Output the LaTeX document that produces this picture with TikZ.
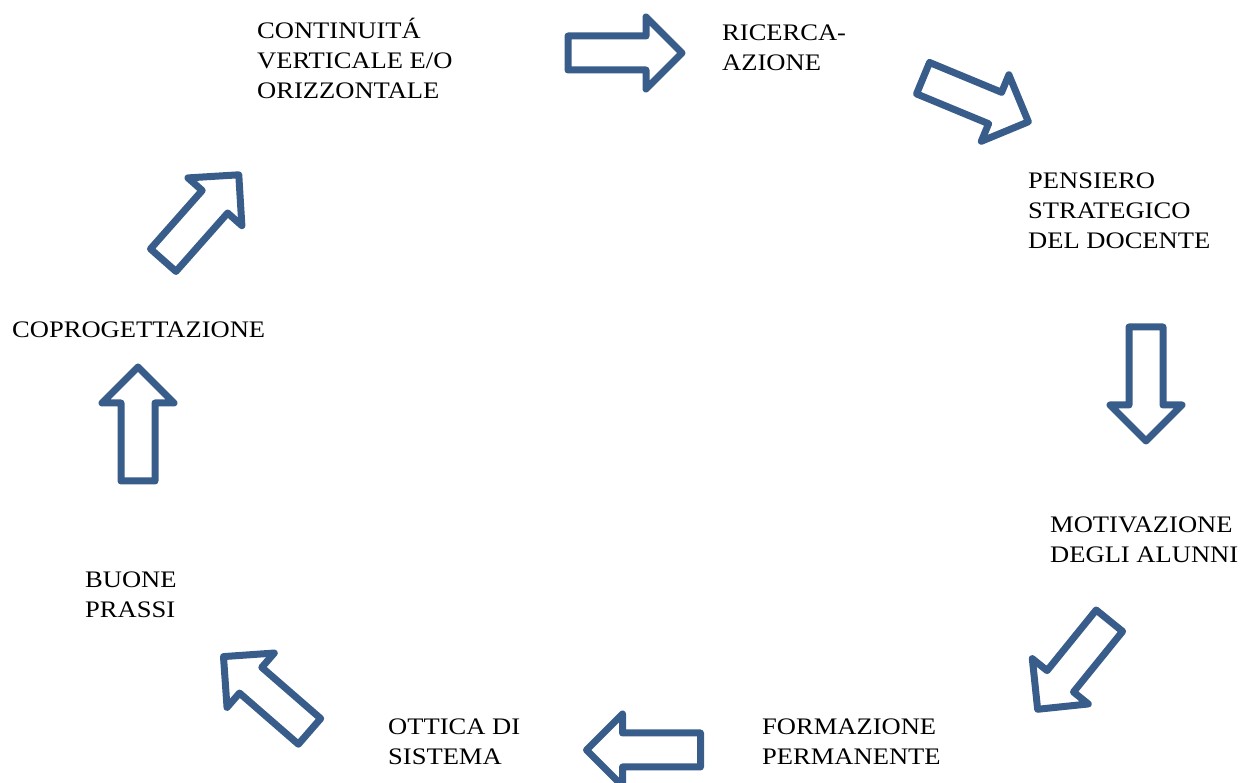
\documentclass[tikz,border=0pt]{standalone}
\usepackage{fontspec}
\setmainfont[FakeStretch=1.12]{Liberation Serif}
\definecolor{arrowblue}{HTML}{385D8A}
\tikzset{%
  lbl/.style = {anchor=base west,align=left,inner sep=0pt,
        font=\fontsize{23.7}{30}\selectfont},
  flowarrow/.pic = {\draw[arrowblue,line width=7pt,line join=round,fill=white]
        (-57,-17) -- (21,-17) -- (21,-36) -- (57,0) -- (21,36)
        -- (21,17) -- (-57,17) -- cycle;}
}

\begin{document}
\begin{tikzpicture}[x=1pt,y=1pt]
   \useasboundingbox (0,0) rectangle (1240,783);
   % labels (base = last line)
   \node[lbl] (continuita) at (257,684) {CONTINUIT\'A\\VERTICALE E/O\\ORIZZONTALE};
   \node[lbl] (ricerca) at (722,712) {RICERCA-\\AZIONE};
   \node[lbl] (pensiero) at (1028,534) {PENSIERO\\STRATEGICO\\DEL DOCENTE};
   \node[lbl] (motivazione) at (1050,220) {MOTIVAZIONE\\DEGLI ALUNNI};
   \node[lbl] (formazione) at (762,18) {FORMAZIONE\\PERMANENTE};
   \node[lbl] (ottica) at (388,18) {OTTICA DI\\SISTEMA};
   \node[lbl] (buone) at (85,165) {BUONE\\PRASSI};
   \node[lbl] (coprog) at (12,445) {COPROGETTAZIONE};

   % block arrows
   \pic at (625,730) {flowarrow};
   \pic[rotate=-22.5] at (975.7,683) {flowarrow};
   \pic[rotate=-90] at (1146,399) {flowarrow};
   \pic[rotate=-129] at (1073.5,118) {flowarrow};
   \pic[rotate=180] at (643.5,33) {flowarrow};
   \pic[rotate=139] at (266.5,89) {flowarrow};
   \pic[rotate=90] at (138,359) {flowarrow};
   \pic[rotate=48.5] at (201,565.5) {flowarrow};
\end{tikzpicture}
\end{document}
